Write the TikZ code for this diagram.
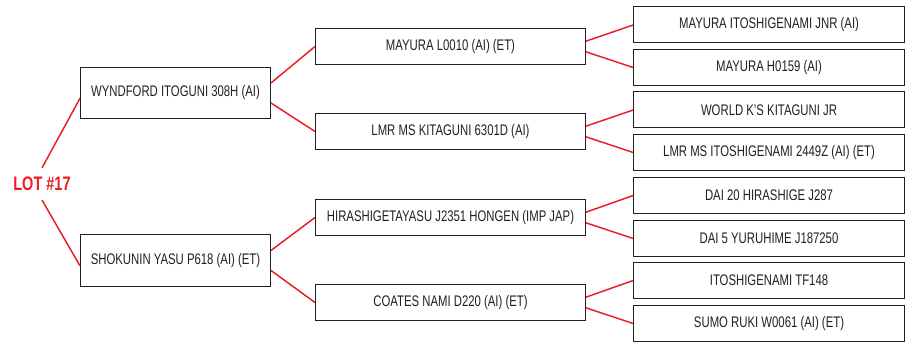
\documentclass[tikz,border=0pt]{standalone}
\usepackage{fontspec}
\setmainfont{Liberation Sans}[FakeStretch=0.74]

\definecolor{lotred}{RGB}{237,28,36}
\definecolor{ink}{RGB}{35,31,32}

\tikzset{every picture/.style={line width=0.75pt}}
\tikzset{
	horse/.style={draw=ink, text=ink, inner sep=0pt, font=\fontsize{11.5}{13}\selectfont},
	sirebox/.style={horse, minimum width=142.5pt, minimum height=38.5pt},
	parentbox/.style={horse, minimum width=202.5pt, minimum height=27.5pt},
	grandbox/.style={horse, minimum width=203pt, minimum height=27pt},
	link/.style={draw=lotred, line width=1.1pt}
}

\begin{document}
\begin{tikzpicture}[x=0.75pt,y=0.75pt,yscale=-1]
	\useasboundingbox (0,0) rectangle (912,345);
	
	% Lot label
	\node [text=lotred, inner sep=6.5pt, font=\fontsize{14.7}{16}\bfseries\selectfont] (lot) at (42,184) {LOT \#17};
	
	% First generation
	\node [sirebox] (sire) at (175.5,93) {WYNDFORD ITOGUNI 308H (AI)};
	\node [sirebox] (dam) at (175.5,260.5) {SHOKUNIN YASU P618 (AI) (ET)};
	
	% Second generation
	\node [parentbox] (ss) at (450.5,46.5) {MAYURA L0010 (AI) (ET)};
	\node [parentbox] (sd) at (450.5,131.5) {LMR MS KITAGUNI 6301D (AI)};
	\node [parentbox] (ds) at (450.5,217.5) {HIRASHIGETAYASU J2351 HONGEN (IMP JAP)};
	\node [parentbox] (dd) at (450.5,302.5) {COATES NAMI D220 (AI) (ET)};
	
	% Third generation
	\node [grandbox] (sss) at (769,25) {MAYURA ITOSHIGENAMI JNR (AI)};
	\node [grandbox] (ssd) at (769,67.5) {MAYURA H0159 (AI)};
	\node [grandbox] (sds) at (769,110) {WORLD K'S KITAGUNI JR};
	\node [grandbox] (sdd) at (769,152.5) {LMR MS ITOSHIGENAMI 2449Z (AI) (ET)};
	\node [grandbox] (dss) at (769,195.5) {DAI 20 HIRASHIGE J287};
	\node [grandbox] (dsd) at (769,238.5) {DAI 5 YURUHIME J187250};
	\node [grandbox] (dds) at (769,280.5) {ITOSHIGENAMI TF148};
	\node [grandbox] (ddd) at (769,323.5) {SUMO RUKI W0061 (AI) (ET)};
	
	% Lot to first generation
	\draw [link] (lot.north) -- ([yshift=4pt]sire.west);
	\draw [link] (lot.south) -- ([yshift=4pt]dam.west);
	
	% First to second generation
	\draw [link] ([yshift=-7.5pt]sire.east) -- (ss.west);
	\draw [link] ([yshift=7.5pt]sire.east) -- (sd.west);
	\draw [link] ([yshift=-7.5pt]dam.east) -- (ds.west);
	\draw [link] ([yshift=7.5pt]dam.east) -- (dd.west);
	
	% Second to third generation
	\draw [link] ([yshift=-4pt]ss.east) -- (sss.west);
	\draw [link] ([yshift=4pt]ss.east) -- (ssd.west);
	\draw [link] ([yshift=-4pt]sd.east) -- (sds.west);
	\draw [link] ([yshift=4pt]sd.east) -- (sdd.west);
	\draw [link] ([yshift=-4pt]ds.east) -- (dss.west);
	\draw [link] ([yshift=4pt]ds.east) -- (dsd.west);
	\draw [link] ([yshift=-4pt]dd.east) -- (dds.west);
	\draw [link] ([yshift=4pt]dd.east) -- (ddd.west);
\end{tikzpicture}
\end{document}
